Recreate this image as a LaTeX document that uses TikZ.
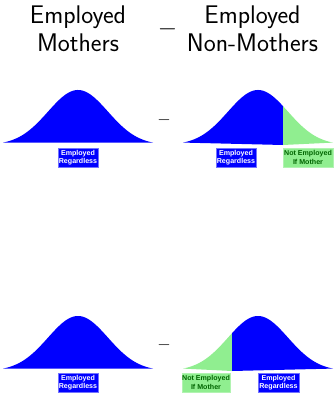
\documentclass[tikz,border=0pt]{standalone}
\usepackage{fontspec}
\newfontfamily\arialfont{Liberation Sans}
\definecolor{lgreen}{RGB}{144,238,144}
\definecolor{dgreen}{RGB}{0,100,0}
\definecolor{boxblue}{RGB}{0,0,255}
\begin{document}
\begin{tikzpicture}[x=1pt,y=-1pt,
  title/.style={font=\sffamily\fontsize{25.5}{28}\selectfont, align=center, inner sep=0pt},
  minus/.style={inner sep=0pt, font=\fontsize{17}{17}\selectfont},
  bigminus/.style={inner sep=0pt, font=\fontsize{28}{28}\selectfont},
  lab/.style={font=\arialfont\bfseries\fontsize{7.1}{8.6}\selectfont, align=center,
    inner sep=0pt, minimum height=19pt, line width=0.6pt},
  bluelab/.style={lab, fill=boxblue, draw=blue!55, text=white},
  greenlab/.style={lab, fill=lgreen, draw=lgreen!70!white, text=dgreen}
]
\useasboundingbox (0,0) rectangle (335,393);
\fill[white] (0,0) rectangle (335,393);

% titles
\node[title] (t1) at (78,29) {Employed\\Mothers};
\node[title] (t2) at (252.5,29) {Employed\\Non-Mothers};
\node[bigminus] (tm) at (167.5,29.5) {$-$};

% top left curve
\fill[boxblue] plot[domain=-75:75, samples=120] ({78+\x},{145-55*exp(-\x*\x/1800)}) -- cycle;
% top right curve
\fill[boxblue] plot[domain=-75:25, samples=100] ({258+\x},{145-55*exp(-\x*\x/1800)}) -- (283,145) -- cycle;
\fill[lgreen] plot[domain=25:75, samples=60] ({258+\x},{145-55*exp(-\x*\x/1800)}) -- (283,145) -- cycle;

% bottom left curve
\fill[boxblue] plot[domain=-75:75, samples=120] ({78+\x},{371-55*exp(-\x*\x/1800)}) -- cycle;
% bottom right curve
\fill[lgreen] plot[domain=-75:-26, samples=60] ({258+\x},{371-55*exp(-\x*\x/1800)}) -- (232,371) -- cycle;
\fill[boxblue] (232,371) -- plot[domain=-26:75, samples=100] ({258+\x},{371-55*exp(-\x*\x/1800)}) -- cycle;

% minus signs
\node[minus] (m1) at (164,120) {$-$};
\node[minus] (m2) at (164,345) {$-$};

% labels
\node[bluelab, minimum width=40pt] (l1) at (78,157.5) {Employed\\Regardless};
\node[bluelab, minimum width=40pt] (l2) at (236,157.5) {Employed\\Regardless};
\node[greenlab, minimum width=50pt] (l3) at (308,157.5) {Not Employed\\If Mother};
\node[bluelab, minimum width=40pt] (l4) at (78,382.5) {Employed\\Regardless};
\node[greenlab, minimum width=48pt] (l5) at (206,382.5) {Not Employed\\If Mother};
\node[bluelab, minimum width=41pt] (l6) at (278.5,382.5) {Employed\\Regardless};
\end{tikzpicture}
\end{document}
